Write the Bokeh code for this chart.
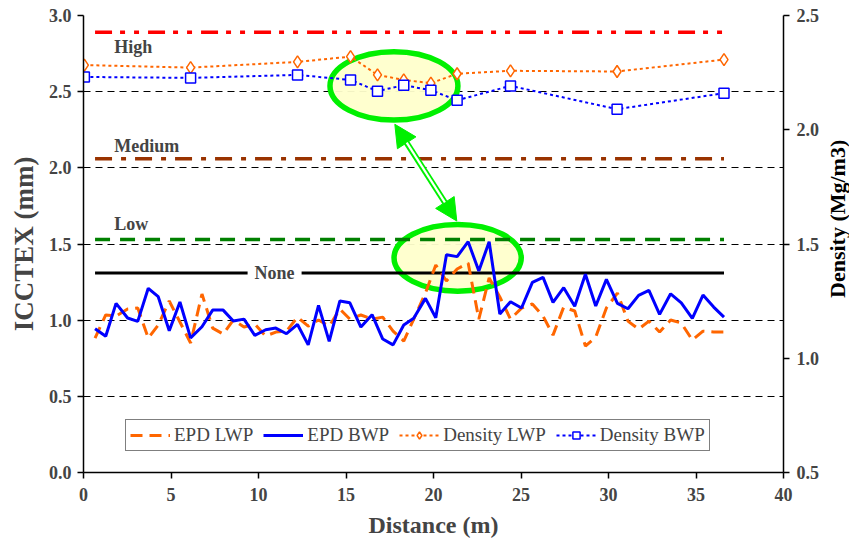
from bokeh.plotting import figure
from bokeh.layouts import row
from bokeh.models import (Range1d, LinearAxis, FixedTicker, Label, Arrow,
                          NormalHead, Legend, LegendItem, NumeralTickFormatter)
from bokeh.core.properties import value
from bokeh.embed import file_html
from bokeh.resources import INLINE
import math

# ---- data -------------------------------------------------------------
# distance along the pavement (m) for the EPD profiles
epd_distance = [0.66, 1.27, 1.86, 2.52, 3.10, 3.70, 4.27, 4.90, 5.51, 6.12,
                6.77, 7.38, 7.98, 8.56, 9.17, 9.79, 10.41, 10.99, 11.60, 12.23,
                12.84, 13.43, 14.04, 14.65, 15.22, 15.85, 16.49, 17.10, 17.69, 18.30,
                18.87, 19.54, 20.13, 20.74, 21.35, 21.98, 22.59, 23.18, 23.79, 24.40,
                25.03, 25.65, 26.26, 26.83, 27.44, 28.07, 28.68, 29.27, 29.88, 30.51,
                31.11, 31.72, 32.31, 32.92, 33.55, 34.16, 34.79, 35.40, 36.01, 36.60]

# ICCTEX, left wheel path (mm)
epd_lwp = [0.882, 1.034, 1.027, 1.073, 1.080, 0.882, 0.968, 1.126, 0.988, 0.850,
           1.172, 0.948, 0.909, 1.001, 0.955, 0.974, 0.896, 0.922, 0.928, 1.020,
           0.961, 1.001, 0.961, 1.073, 1.007, 1.034, 1.007, 1.020, 0.928, 0.863,
           1.007, 1.178, 1.362, 1.257, 1.336, 1.375, 1.007, 1.277, 1.152, 1.007,
           1.079, 1.106, 1.027, 0.902, 1.086, 1.060, 0.830, 0.889, 1.080, 1.178,
           0.994, 0.941, 0.994, 0.922, 1.001, 0.981, 0.869, 0.928, 0.922, 0.922]

# ICCTEX, between wheel paths (mm)
epd_bwp = [0.944, 0.894, 1.110, 1.014, 0.992, 1.209, 1.154, 0.930, 1.119, 0.884,
           0.957, 1.066, 1.066, 0.994, 1.007, 0.900, 0.937, 0.948, 0.911, 0.972,
           0.838, 1.097, 0.861, 1.126, 1.114, 0.955, 1.036, 0.876, 0.838, 0.968,
           1.012, 1.143, 1.016, 1.430, 1.417, 1.515, 1.323, 1.515, 1.040, 1.121,
           1.080, 1.248, 1.281, 1.117, 1.213, 1.091, 1.301, 1.093, 1.268, 1.110,
           1.075, 1.163, 1.196, 1.038, 1.173, 1.114, 1.012, 1.165, 1.086, 1.020]

# core density (Mg/m3)
density_distance = [0.05, 6.12, 12.23, 15.26, 16.80, 18.30, 19.85, 21.35, 24.40, 30.49, 36.60]
density_lwp = [2.283, 2.272, 2.297, 2.320, 2.240, 2.218, 2.204, 2.245, 2.258, 2.255, 2.307]
density_bwp = [2.231, 2.227, 2.240, 2.218, 2.169, 2.195, 2.173, 2.129, 2.192, 2.090, 2.160]

# segregation thresholds (ICCTEX, mm)
threshold_names = ["High", "Medium", "Low", "None"]
threshold_values = [2.89, 2.06, 1.53, 1.31]
threshold_span = [0.66, 36.60]

x_ticks = [0, 5, 10, 15, 20, 25, 30, 35, 40]
left_ticks = [0.0, 0.5, 1.0, 1.5, 2.0, 2.5, 3.0]
right_ticks = [0.5, 1.0, 1.5, 2.0, 2.5]

# ---- styling ----------------------------------------------------------
FONT = "Liberation Serif"
ORANGE = "#FF6600"
BLUE = "#0000FF"
RING = "#00F000"
HEIGHT = 546

p = figure(width=822, height=HEIGHT, x_range=Range1d(0, 40), y_range=Range1d(0, 3),
           output_backend="svg", toolbar_location=None,
           min_border_left=83, min_border_right=38, min_border_top=15, min_border_bottom=74)
p.extra_y_ranges = {"density": Range1d(0.5, 2.5)}
p.outline_line_color = None
p.background_fill_color = "white"

p.xgrid.visible = False
p.ygrid.ticker = FixedTicker(ticks=[0.5, 1.0, 1.5, 2.0, 2.5])
p.ygrid.grid_line_color = "black"
p.ygrid.grid_line_dash = "7 5"
p.ygrid.grid_line_width = 1


def style_axis(ax, label, size, standoff, label_standoff):
    ax.axis_label = label
    ax.axis_label_text_font = FONT
    ax.axis_label_text_font_style = "bold"
    ax.axis_label_text_font_size = size
    ax.axis_label_standoff = label_standoff
    ax.major_label_text_font = FONT
    ax.major_label_text_font_style = "bold"
    ax.major_label_text_font_size = "18px"
    ax.major_label_standoff = standoff
    ax.axis_line_color = "black"
    ax.axis_line_width = 1.5
    ax.major_tick_line_color = "black"
    ax.major_tick_line_width = 1.5
    ax.major_tick_out = 6
    ax.major_tick_in = 0
    ax.minor_tick_line_color = None


style_axis(p.xaxis[0], "Distance (m)", "24px", 9, 8)
p.xaxis[0].ticker = FixedTicker(ticks=x_ticks)

style_axis(p.yaxis[0], "ICCTEX (mm)", "27px", 6, 7)
p.yaxis[0].ticker = FixedTicker(ticks=left_ticks)
p.yaxis[0].formatter = NumeralTickFormatter(format="0.0")

right = LinearAxis(y_range_name="density")
style_axis(right, None, "20px", 7, 0)
right.ticker = FixedTicker(ticks=right_ticks)
right.formatter = NumeralTickFormatter(format="0.0")
p.add_layout(right, "right")

# ---- highlight ellipses and the arrow linking them ----------------------
ellipse_x = [17.74, 21.38]
ellipse_y = [2.538, 1.409]
ellipse_w = [7.31, 7.27]
ellipse_h = [0.449, 0.438]
p.ellipse(x=ellipse_x, y=ellipse_y, width=ellipse_w, height=ellipse_h,
          fill_color="#FFFFCC", fill_alpha=0.95, line_color=RING, line_width=5.5)

# ---- threshold lines --------------------------------------------------
thr_styles = {
    "High": dict(color="#FF0000", line_dash="17 8 5 9 5 9", line_width=3.5),
    "Medium": dict(color="#993300", line_dash="17 9 5 9", line_width=3.5),
    "Low": dict(color="#008000", line_dash="15 10", line_width=3.5),
    "None": dict(color="black", line_dash="solid", line_width=3),
}
for name, val in zip(threshold_names, threshold_values):
    p.line(threshold_span, [val, val], **thr_styles[name])

label_pos = {"High": (1.76, 2.79), "Medium": (1.76, 2.141), "Low": (1.76, 1.631)}
for name, (lx, ly) in label_pos.items():
    p.add_layout(Label(x=lx, y=ly, text=name, text_font=FONT, text_font_style="bold",
                       text_font_size="18px", text_baseline="middle"))
p.add_layout(Label(x=10.92, y=threshold_values[3], text="None", text_font=FONT,
                   text_font_style="bold", text_font_size="18px", text_align="center",
                   text_baseline="middle", background_fill_color="white", padding=7))

# ---- series -----------------------------------------------------------
r_lwp = p.line(epd_distance, epd_lwp, color=ORANGE, line_width=3, line_dash="12 7")
r_bwp = p.line(epd_distance, epd_bwp, color=BLUE, line_width=3)

r_dl_line = p.line(density_distance, density_lwp, color=ORANGE, line_width=2,
                   line_dash="3 3", y_range_name="density")
r_dl_pts = p.scatter(density_distance, density_lwp, marker="diamond", size=12,
                     line_color=ORANGE, line_width=1.5, fill_color="white",
                     y_range_name="density")
r_db_line = p.line(density_distance, density_bwp, color=BLUE, line_width=2,
                   line_dash="3 3", y_range_name="density")
r_db_pts = p.scatter(density_distance, density_bwp, marker="square", size=10,
                     line_color=BLUE, line_width=1.5, fill_color="white",
                     y_range_name="density")

arrow_top = (17.79, 2.286)
arrow_bottom = (21.33, 1.651)
shaft_top = (18.47, 2.165)
shaft_bottom = (20.65, 1.773)
p.add_layout(Arrow(x_start=arrow_top[0], y_start=arrow_top[1],
                   x_end=arrow_bottom[0], y_end=arrow_bottom[1],
                   line_color=RING, line_width=6,
                   start=NormalHead(size=22, fill_color=RING, line_color=RING),
                   end=NormalHead(size=22, fill_color=RING, line_color=RING)))
p.add_layout(Arrow(x_start=shaft_top[0], y_start=shaft_top[1],
                   x_end=shaft_bottom[0], y_end=shaft_bottom[1],
                   line_color="white", line_width=2.2, start=None, end=None))

legend = Legend(items=[
    LegendItem(label="EPD LWP", renderers=[r_lwp]),
    LegendItem(label="EPD BWP", renderers=[r_bwp]),
    LegendItem(label="Density LWP", renderers=[r_dl_line, r_dl_pts]),
    LegendItem(label="Density BWP", renderers=[r_db_line, r_db_pts]),
], orientation="horizontal", location=(42, 21))
legend.label_text_font = FONT
legend.label_text_font_size = "19px"
legend.glyph_width = 40
legend.glyph_height = 18
legend.label_standoff = 4
legend.spacing = 10
legend.padding = 4
legend.margin = 0
legend.border_line_color = "black"
legend.border_line_width = 1
legend.background_fill_alpha = 1
p.add_layout(legend)

# ---- narrow strip holding the density axis title (reads bottom to top) --
STRIP_W = 27
q = figure(width=STRIP_W, height=HEIGHT, x_range=Range1d(0, STRIP_W), y_range=Range1d(0, HEIGHT),
           output_backend="svg", toolbar_location=None, x_axis_location=None,
           y_axis_location=None, min_border=0)
q.grid.visible = False
q.outline_line_color = None
q.text(x=[15], y=[HEIGHT - 243], text=["Density (Mg/m3)"], angle=math.pi / 2,
       text_align="center", text_baseline="middle", text_font=value(FONT),
       text_font_style="bold", text_font_size="22px", text_color="black")

layout = row(p, q)
open("out.html", "w").write(file_html(layout, INLINE))
